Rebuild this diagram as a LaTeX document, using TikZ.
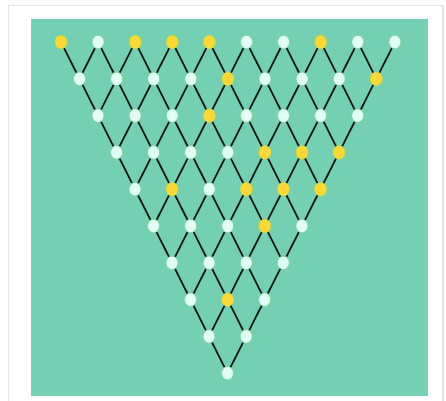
\documentclass[tikz,border=0pt]{standalone}
\definecolor{teal1}{HTML}{73D0B2}
\definecolor{nodew}{HTML}{E2FDF6}
\definecolor{nodewl}{HTML}{86D69E}
\definecolor{nodey}{HTML}{FDD835}
\definecolor{nodeyl}{HTML}{C6D94A}
\definecolor{edgec}{HTML}{151515}
\tikzset{
  base/.style={ellipse, minimum width=12pt, minimum height=13.5pt, inner sep=0pt, line width=0.8pt},
  wht/.style={base, draw=nodewl, fill=nodew},
  yel/.style={base, draw=nodeyl, fill=nodey},
  edge/.style={draw=edgec, line width=1.7pt}
}
\usetikzlibrary{shapes.geometric}
\begin{document}
\begin{tikzpicture}[x=1pt,y=-1pt]
\useasboundingbox (0,0) rectangle (446,400);
\fill[white] (0,0) rectangle (446,400);
\fill[black!10] (7.5,4.5) rectangle (443.5,401);
\fill[white] (9,6) rectangle (442,401);
\fill[teal1] (31,19) rectangle (428,396);
\foreach \r/\lst in {0/{yel,wht,yel,yel,yel,wht,wht,yel,wht,wht},
                     1/{wht,wht,wht,wht,yel,wht,wht,wht,yel},
                     2/{wht,wht,wht,yel,wht,wht,wht,wht},
                     3/{wht,wht,wht,wht,yel,yel,yel},
                     4/{wht,yel,wht,yel,yel,yel},
                     5/{wht,wht,wht,yel,wht},
                     6/{wht,wht,wht,wht},
                     7/{wht,yel,wht},
                     8/{wht,wht},
                     9/{wht}} {
  \foreach \s [count=\i from 0] in \lst {
    \node[\s] (n-\r-\i) at ({61+18.5*\r+37.1*\i},{42+36.8*\r}) {};
  }
}
\foreach \r in {1,...,9} {
  \pgfmathtruncatemacro\n{9-\r}
  \pgfmathtruncatemacro\p{\r-1}
  \foreach \j in {0,...,\n} {
    \pgfmathtruncatemacro\k{\j+1}
    \draw[edge] (n-\r-\j) -- (n-\p-\j);
    \draw[edge] (n-\r-\j) -- (n-\p-\k);
  }
}
\end{tikzpicture}
\end{document}
